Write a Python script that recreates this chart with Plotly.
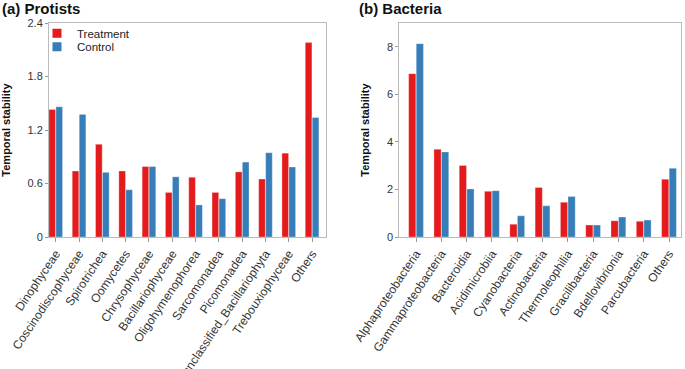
import plotly.graph_objects as go

protist_cats = ["Dinophyceae", "Coscinodiscophyceae", "Spirotrichea", "Oomycetes",
                "Chrysophyceae", "Bacillariophyceae", "Oligohymenophorea", "Sarcomonadea",
                "Picomonadea", "unclassified_Bacillariophyta", "Trebouxiophyceae", "Others"]
protist_treatment = [1.43, 0.74, 1.04, 0.74, 0.79, 0.50, 0.67, 0.50, 0.73, 0.65, 0.94, 2.18]
protist_control = [1.46, 1.375, 0.725, 0.53, 0.79, 0.675, 0.36, 0.43, 0.84, 0.945, 0.785, 1.34]

bact_cats = ["Alphaproteobacteria", "Gammaproteobacteria", "Bacteroidia", "Acidimicrobiia",
             "Cyanobacteria", "Actinobacteria", "Thermoleophilia", "Gracilibacteria",
             "Bdellovibrionia", "Parcubacteria", "Others"]
bact_treatment = [6.87, 3.69, 3.01, 1.92, 0.54, 2.08, 1.46, 0.50, 0.68, 0.66, 2.43]
bact_control = [8.13, 3.58, 2.02, 1.95, 0.89, 1.31, 1.70, 0.50, 0.84, 0.71, 2.89]

protist_ticks = [0, 0.6, 1.2, 1.8, 2.4]
protist_ticktext = ["0", "0.6", "1.2", "1.8", "2.4"]
bact_ticks = [0, 2, 4, 6, 8]

RED = "#E41A1C"
BLUE = "#377EB8"
FONT = "Liberation Sans, Arial, sans-serif"

fig = go.Figure()
edge = dict(color="rgba(255,255,255,0.6)", width=0.5)
fig.add_trace(go.Bar(x=protist_cats, y=protist_treatment, name="Treatment", showlegend=False,
                     marker=dict(color=RED, line=edge), xaxis="x", yaxis="y", legendgroup="T"))
fig.add_trace(go.Bar(x=protist_cats, y=protist_control, name="Control", showlegend=False,
                     marker=dict(color=BLUE, line=edge), xaxis="x", yaxis="y", legendgroup="C"))
fig.add_trace(go.Bar(x=bact_cats, y=bact_treatment, name="Treatment", showlegend=False,
                     marker=dict(color=RED, line=edge), xaxis="x2", yaxis="y2", legendgroup="T"))
fig.add_trace(go.Bar(x=bact_cats, y=bact_control, name="Control", showlegend=False,
                     marker=dict(color=BLUE, line=edge), xaxis="x2", yaxis="y2", legendgroup="C"))
# legend entries (square swatches)
fig.add_trace(go.Scatter(x=[None], y=[None], mode="markers", name="Treatment", legendgroup="T",
                         marker=dict(symbol="square", size=9, color=RED), legend="legend",
                         xaxis="x", yaxis="y"))
fig.add_trace(go.Scatter(x=[None], y=[None], mode="markers", name="Control", legendgroup="C",
                         marker=dict(symbol="square", size=9, color=BLUE), legend="legend2",
                         xaxis="x", yaxis="y"))

axis_common = dict(showline=True, linecolor="#BBBBBB", linewidth=1, mirror=True,
                   showgrid=False, zeroline=False, ticks="outside",
                   tickcolor="#999999", automargin=False)
xfont = dict(family=FONT, size=12, color="#333333")
yfont = dict(family=FONT, size=11, color="#333333")
ytitle_font = dict(family=FONT, size=11, color="#111111")
legend_common = dict(xanchor="left", yanchor="middle", bgcolor="rgba(0,0,0,0)",
                     font=dict(family=FONT, size=11.5, color="#222222"), itemwidth=30,
                     borderwidth=0)

fig.update_layout(
    width=685, height=369,
    margin=dict(l=0, r=0, t=23, b=132),
    paper_bgcolor="white", plot_bgcolor="white",
    barmode="group", bargap=0.4, bargroupgap=0.05,
    font=dict(family=FONT, size=12, color="#222222"),
    xaxis=dict(domain=[0.0715, 0.476], range=[-0.29, 11.6], tickangle=-56, ticklen=4,
               tickfont=xfont, **axis_common),
    yaxis=dict(range=[0, 2.4], tickvals=protist_ticks, ticktext=protist_ticktext,
               anchor="x", ticklen=3, tickfont=yfont,
               title=dict(text="<b>Temporal stability</b>", font=ytitle_font),
               **axis_common),
    xaxis2=dict(domain=[0.583, 0.994], range=[-0.66, 10.47], tickangle=-56, anchor="y2",
                ticklen=4, tickfont=xfont, **axis_common),
    yaxis2=dict(range=[0, 9.0], tickvals=bact_ticks, anchor="x2", ticklen=3, tickfont=yfont,
                title=dict(text="<b>Temporal stability</b>", font=ytitle_font),
                **axis_common),
    legend=dict(x=37/685, y=(237-33.3)/214, **legend_common),
    legend2=dict(x=37/685, y=(237-46.7)/214, **legend_common),
    annotations=[
        dict(text="<b>(a) Protists</b>", x=0, y=1, xref="paper", yref="paper", xanchor="left",
             yanchor="middle", yshift=15, showarrow=False, font=dict(family=FONT, size=15, color="#111111")),
        dict(text="<b>(b) Bacteria</b>", x=357/685, y=1, xref="paper", yref="paper", xanchor="left",
             yanchor="middle", yshift=15, showarrow=False, font=dict(family=FONT, size=15, color="#111111")),
    ],
)

fig.write_html("out.html", config={"displayModeBar": False},
               post_script="document.body.style.margin='0';document.body.style.overflow='hidden';")
